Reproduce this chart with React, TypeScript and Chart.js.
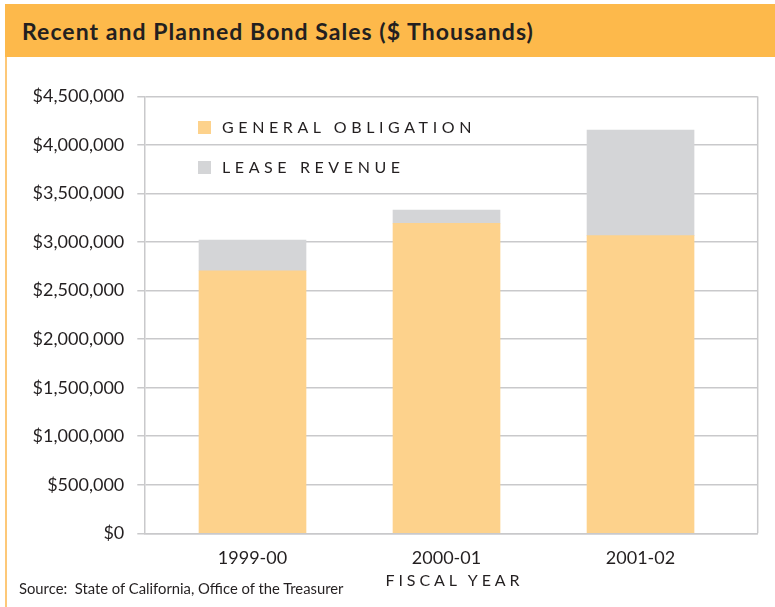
import React, { useEffect, useRef } from "react";
import { Chart, registerables } from "chart.js";

Chart.register(...registerables);

const fiscalYears = ["1999-00", "2000-01", "2001-02"];
const generalObligation = [2705000, 3194000, 3066000];
const leaseRevenue = [317000, 137000, 1089000];
const seriesLabels = ["GENERAL OBLIGATION", "LEASE REVENUE"];
const seriesColors = ["#FDD28C", "#D4D5D7"];
const yMax = 4500000;
const yStep = 500000;

const TEXT = "#231F20";
const GRID = "#C9C9CB";
const FONT = "Lato, 'Open Sans', sans-serif";

const rightBorder = {
  id: "rightBorder",
  beforeDatasetsDraw(chart: any) {
    const { ctx, chartArea } = chart;
    ctx.save();
    ctx.strokeStyle = GRID;
    ctx.lineWidth = 1.5;
    ctx.beginPath();
    ctx.moveTo(chartArea.right, chartArea.top);
    ctx.lineTo(chartArea.right, chartArea.bottom);
    ctx.stroke();
    ctx.restore();
  },
};

export default function App() {
  const ref = useRef<HTMLCanvasElement | null>(null);

  useEffect(() => {
    document.body.style.margin = "0";
    const canvas = ref.current!;
    const chart = new Chart(canvas, {
      type: "bar",
      data: {
        datasets: [
          {
            label: seriesLabels[0],
            data: generalObligation.map((v, i) => ({ x: i, y: v })),
            backgroundColor: seriesColors[0],
            barThickness: 107,
          },
          {
            label: seriesLabels[1],
            data: leaseRevenue.map((v, i) => ({ x: i, y: v })),
            backgroundColor: seriesColors[1],
            barThickness: 107,
          },
        ],
      },
      options: {
        animation: false,
        responsive: false,
        devicePixelRatio: 1,
        layout: { padding: { top: 96.5, right: 17.3, left: 0, bottom: 0 } },
        plugins: { legend: { display: false }, tooltip: { enabled: false }, title: { display: false } },
        scales: {
          x: {
            type: "linear",
            stacked: true,
            offset: false,
            min: -0.5577,
            max: 2.604,
            grid: { display: false, offset: false },
            border: { display: true, color: GRID, width: 1.5 },
            afterBuildTicks: (scale: any) => {
              scale.ticks = fiscalYears.map((_, i) => ({ value: i }));
            },
            afterFit: (scale: any) => {
              scale.height = 607 - 533.3;
            },
            ticks: {
              color: TEXT,
              font: { family: FONT, size: 18 },
              padding: 6,
              autoSkip: false,
              maxRotation: 0,
              callback: (v: any) => fiscalYears[v] ?? "",
            },
          },
          y: {
            stacked: true,
            min: 0,
            max: yMax,
            grid: { color: GRID, lineWidth: 1.5, tickLength: 7 },
            border: { display: true, color: GRID, width: 1.5 },
            afterFit: (scale: any) => {
              scale.width = 144.3;
            },
            ticks: {
              stepSize: yStep,
              color: TEXT,
              padding: 13,
              font: { family: FONT, size: 18 },
              callback: (v: any) => "$" + Number(v).toLocaleString("en-US"),
            },
          },
        },
      },
      plugins: [rightBorder],
    });
    return () => chart.destroy();
  }, []);

  return (
    <div style={{ position: "absolute", left: 0, top: 0, width: 775, height: 607, background: "#fff", overflow: "hidden", fontFamily: FONT, color: TEXT }}>
      <div style={{ position: "absolute", left: 5, top: 4, width: 770, height: 53, background: "#FDB94B" }} />
      <div style={{ position: "absolute", left: 5, top: 57, width: 2, height: 550, background: "#FDC878" }} />
      <div style={{ position: "absolute", left: 22, top: 14, fontSize: 23, fontWeight: 700, letterSpacing: "1.05px", lineHeight: "34px", whiteSpace: "nowrap" }}>
        Recent and Planned Bond Sales ($ Thousands)
      </div>
      <canvas ref={ref} width={775} height={607} style={{ position: "absolute", left: 0, top: 0, width: 775, height: 607 }} />
      {seriesLabels.map((label, i) => (
        <div key={label} style={{ position: "absolute", left: 198, top: 117 + i * 40, height: 20, display: "flex", alignItems: "center", whiteSpace: "nowrap" }}>
          <span style={{ display: "inline-block", width: 13, height: 13, background: seriesColors[i], marginRight: 11 }} />
          <span style={{ fontSize: 16, letterSpacing: "4.6px", lineHeight: "20px" }}>{label}</span>
        </div>
      ))}
      <div style={{ position: "absolute", left: 383, top: 570, width: 143, textAlign: "center", fontSize: 16, letterSpacing: "3.9px", lineHeight: "20px", whiteSpace: "nowrap" }}>
        FISCAL YEAR
      </div>
      <div style={{ position: "absolute", left: 19, top: 578, fontSize: 14.8, lineHeight: "20px", whiteSpace: "nowrap" }}>
        Source:&nbsp; State of California, Office of the Treasurer
      </div>
    </div>
  );
}
